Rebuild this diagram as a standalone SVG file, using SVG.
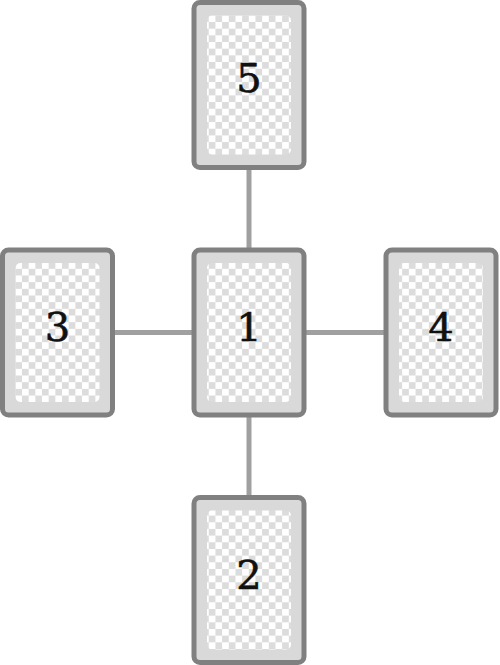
<svg xmlns="http://www.w3.org/2000/svg" width="500" height="665" viewBox="0 0 500 665">
<defs>
<pattern id="chk" width="13.34" height="13.34" patternUnits="userSpaceOnUse" x="2" y="2">
<rect width="13.34" height="13.34" fill="#ffffff"/>
<rect width="6.67" height="6.67" fill="#dcdcdc"/>
<rect x="6.67" y="6.67" width="6.67" height="6.67" fill="#dcdcdc"/>
</pattern>
<style>
.card{fill:#d9d9d9;stroke:#808080;stroke-width:5}
.inner{fill:url(#chk)}
.lbl{font-family:"DejaVu Serif",serif;font-size:40px;fill:#111;text-anchor:middle;stroke:#111;stroke-width:0.6}
.conn{stroke:#a0a0a0;stroke-width:5;fill:none}
</style>
</defs>
<g id="connectors">
<line class="conn" x1="249" y1="167.5" x2="249" y2="250"/>
<line class="conn" x1="249" y1="415" x2="249" y2="497.5"/>
<line class="conn" x1="112.5" y1="332.5" x2="194" y2="332.5"/>
<line class="conn" x1="304" y1="332.5" x2="385.5" y2="332.5"/>
</g>
<g id="node1">
<rect class="card" x="194" y="250" width="110" height="165" rx="6"/>
<rect class="inner" x="207" y="263" width="84" height="139" rx="5"/>
<text class="lbl" x="249" y="341">1</text>
</g>
<g id="node2">
<rect class="card" x="194" y="497.5" width="110" height="165" rx="6"/>
<rect class="inner" x="207" y="510.5" width="84" height="139" rx="5"/>
<text class="lbl" x="249" y="589">2</text>
</g>
<g id="node3">
<rect class="card" x="2.5" y="250" width="110" height="165" rx="6"/>
<rect class="inner" x="15.5" y="263" width="84" height="139" rx="5"/>
<text class="lbl" x="57.5" y="341">3</text>
</g>
<g id="node4">
<rect class="card" x="386" y="250" width="110" height="165" rx="6"/>
<rect class="inner" x="399" y="263" width="84" height="139" rx="5"/>
<text class="lbl" x="441" y="341">4</text>
</g>
<g id="node5">
<rect class="card" x="194" y="2.5" width="110" height="165" rx="6"/>
<rect class="inner" x="207" y="15.5" width="84" height="139" rx="5"/>
<text class="lbl" x="249" y="92">5</text>
</g>
</svg>
